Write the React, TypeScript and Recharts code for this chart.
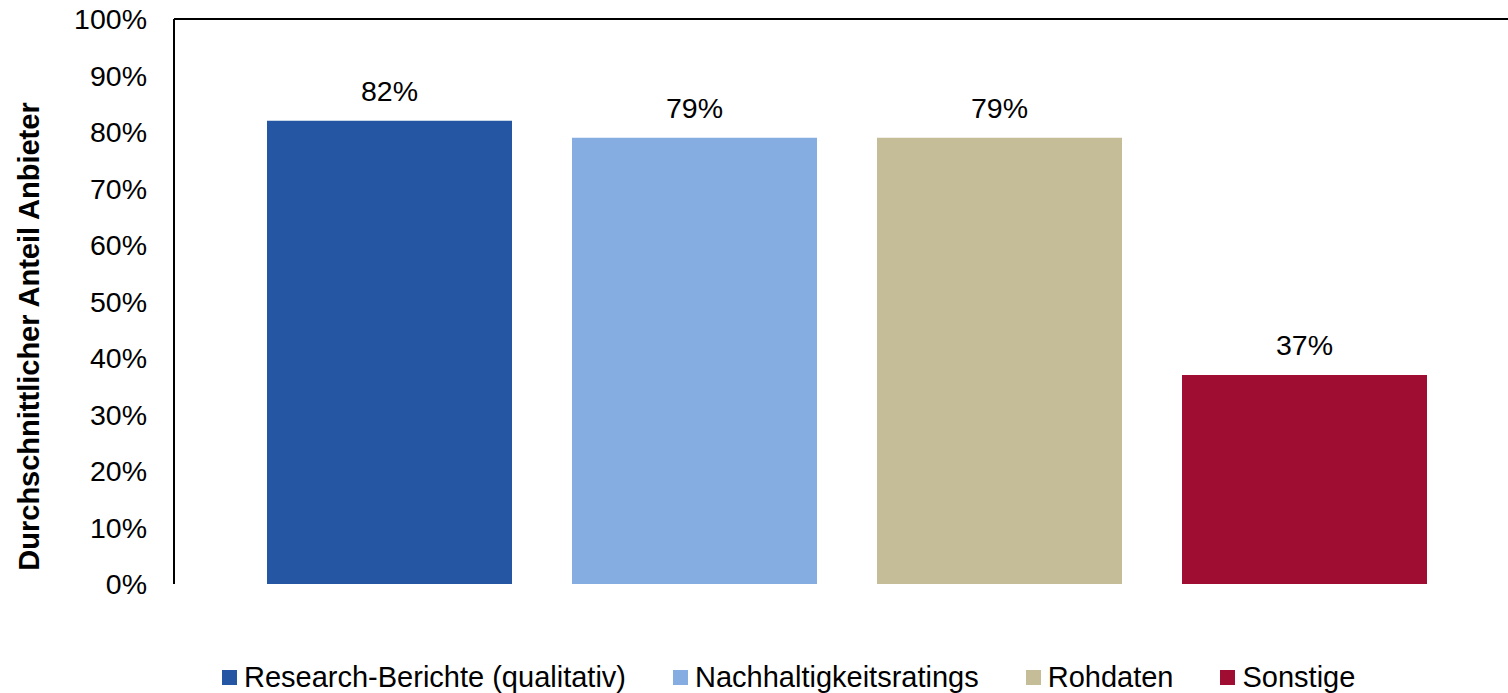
import { BarChart, Bar, XAxis, YAxis, Legend, LabelList, ReferenceLine, Label } from 'recharts'

const categories = ['']
const seriesNames = ['Research-Berichte (qualitativ)', 'Nachhaltigkeitsratings', 'Rohdaten', 'Sonstige']
const seriesKeys = ['research', 'ratings', 'rohdaten', 'sonstige']
const seriesValues = [82, 79, 79, 37]
const seriesColors = ['#2456A3', '#85ADE2', '#C5BD97', '#A00D32']
const yTicks = [0, 10, 20, 30, 40, 50, 60, 70, 80, 90, 100]
const yTitle = 'Durchschnittlicher Anteil  Anbieter'

const font = '"Liberation Sans", Arial, sans-serif'

const chartData = categories.map((name) => {
  const row: Record<string, string | number> = { name }
  seriesKeys.forEach((k, i) => {
    row[k] = seriesValues[i]
  })
  return row
})

function YTitle(props: any) {
  const vb = props.viewBox || {}
  const cx = vb.x + 29
  const cy = vb.y + vb.height / 2 + 35
  return (
    <text
      x={cx}
      y={cy}
      transform={`rotate(-90, ${cx}, ${cy})`}
      textAnchor="middle"
      dominantBaseline="central"
      fontFamily={font}
      fontWeight="bold"
      fontSize={29}
      fill="#000"
    >
      {yTitle}
    </text>
  )
}

function LegendContent() {
  return (
    <div style={{ display: 'flex', alignItems: 'center', height: 30, fontFamily: font, fontSize: 29, color: '#000' }}>
      {seriesNames.map((n, i) => (
        <div key={n} style={{ display: 'flex', alignItems: 'center', marginRight: i < seriesNames.length - 1 ? 47 : 0 }}>
          <span style={{ width: 15, height: 15, background: seriesColors[i], marginRight: 7, display: 'inline-block' }} />
          <span style={{ whiteSpace: 'nowrap', lineHeight: '30px' }}>{n}</span>
        </div>
      ))}
    </div>
  )
}

export default function App() {
  return (
    <div style={{ position: 'absolute', left: 0, top: 0, width: 1508, height: 693, overflow: 'hidden', background: '#fff' }}>
      <BarChart
        width={1540}
        height={693}
        data={chartData}
        margin={{ top: 19, right: 20, bottom: 109, left: 0 }}
        barGap={60}
        barSize={245}
      >
        <XAxis dataKey="name" height={0} tick={false} tickLine={false} axisLine={{ stroke: '#000', strokeWidth: 2 }} />
        <YAxis
          width={174}
          domain={[0, 100]}
          ticks={yTicks}
          interval={0}
          tickFormatter={(v: number) => `${v}%`}
          tickLine={false}
          tickSize={0}
          tickMargin={27}
          axisLine={{ stroke: '#000', strokeWidth: 2 }}
          tick={{ fill: '#000', fontSize: 28.5, fontFamily: font }}
        >
          <Label content={YTitle} />
        </YAxis>
        <ReferenceLine y={100} stroke="#000" strokeWidth={2} ifOverflow="visible" />
        {seriesKeys.map((k, i) => (
          <Bar key={k} dataKey={k} name={seriesNames[i]} fill={seriesColors[i]} isAnimationActive={false}>
            <LabelList
              dataKey={k}
              position="top"
              offset={20}
              formatter={(v: any) => `${v}%`}
              style={{ fill: '#000', fontSize: 28.5, fontFamily: font }}
            />
          </Bar>
        ))}
        <Legend
          layout="horizontal"
          verticalAlign="middle"
          align="center"
          content={LegendContent}
          wrapperStyle={{ top: 662, left: 222, width: 'auto', height: 30 }}
        />
      </BarChart>
    </div>
  )
}
